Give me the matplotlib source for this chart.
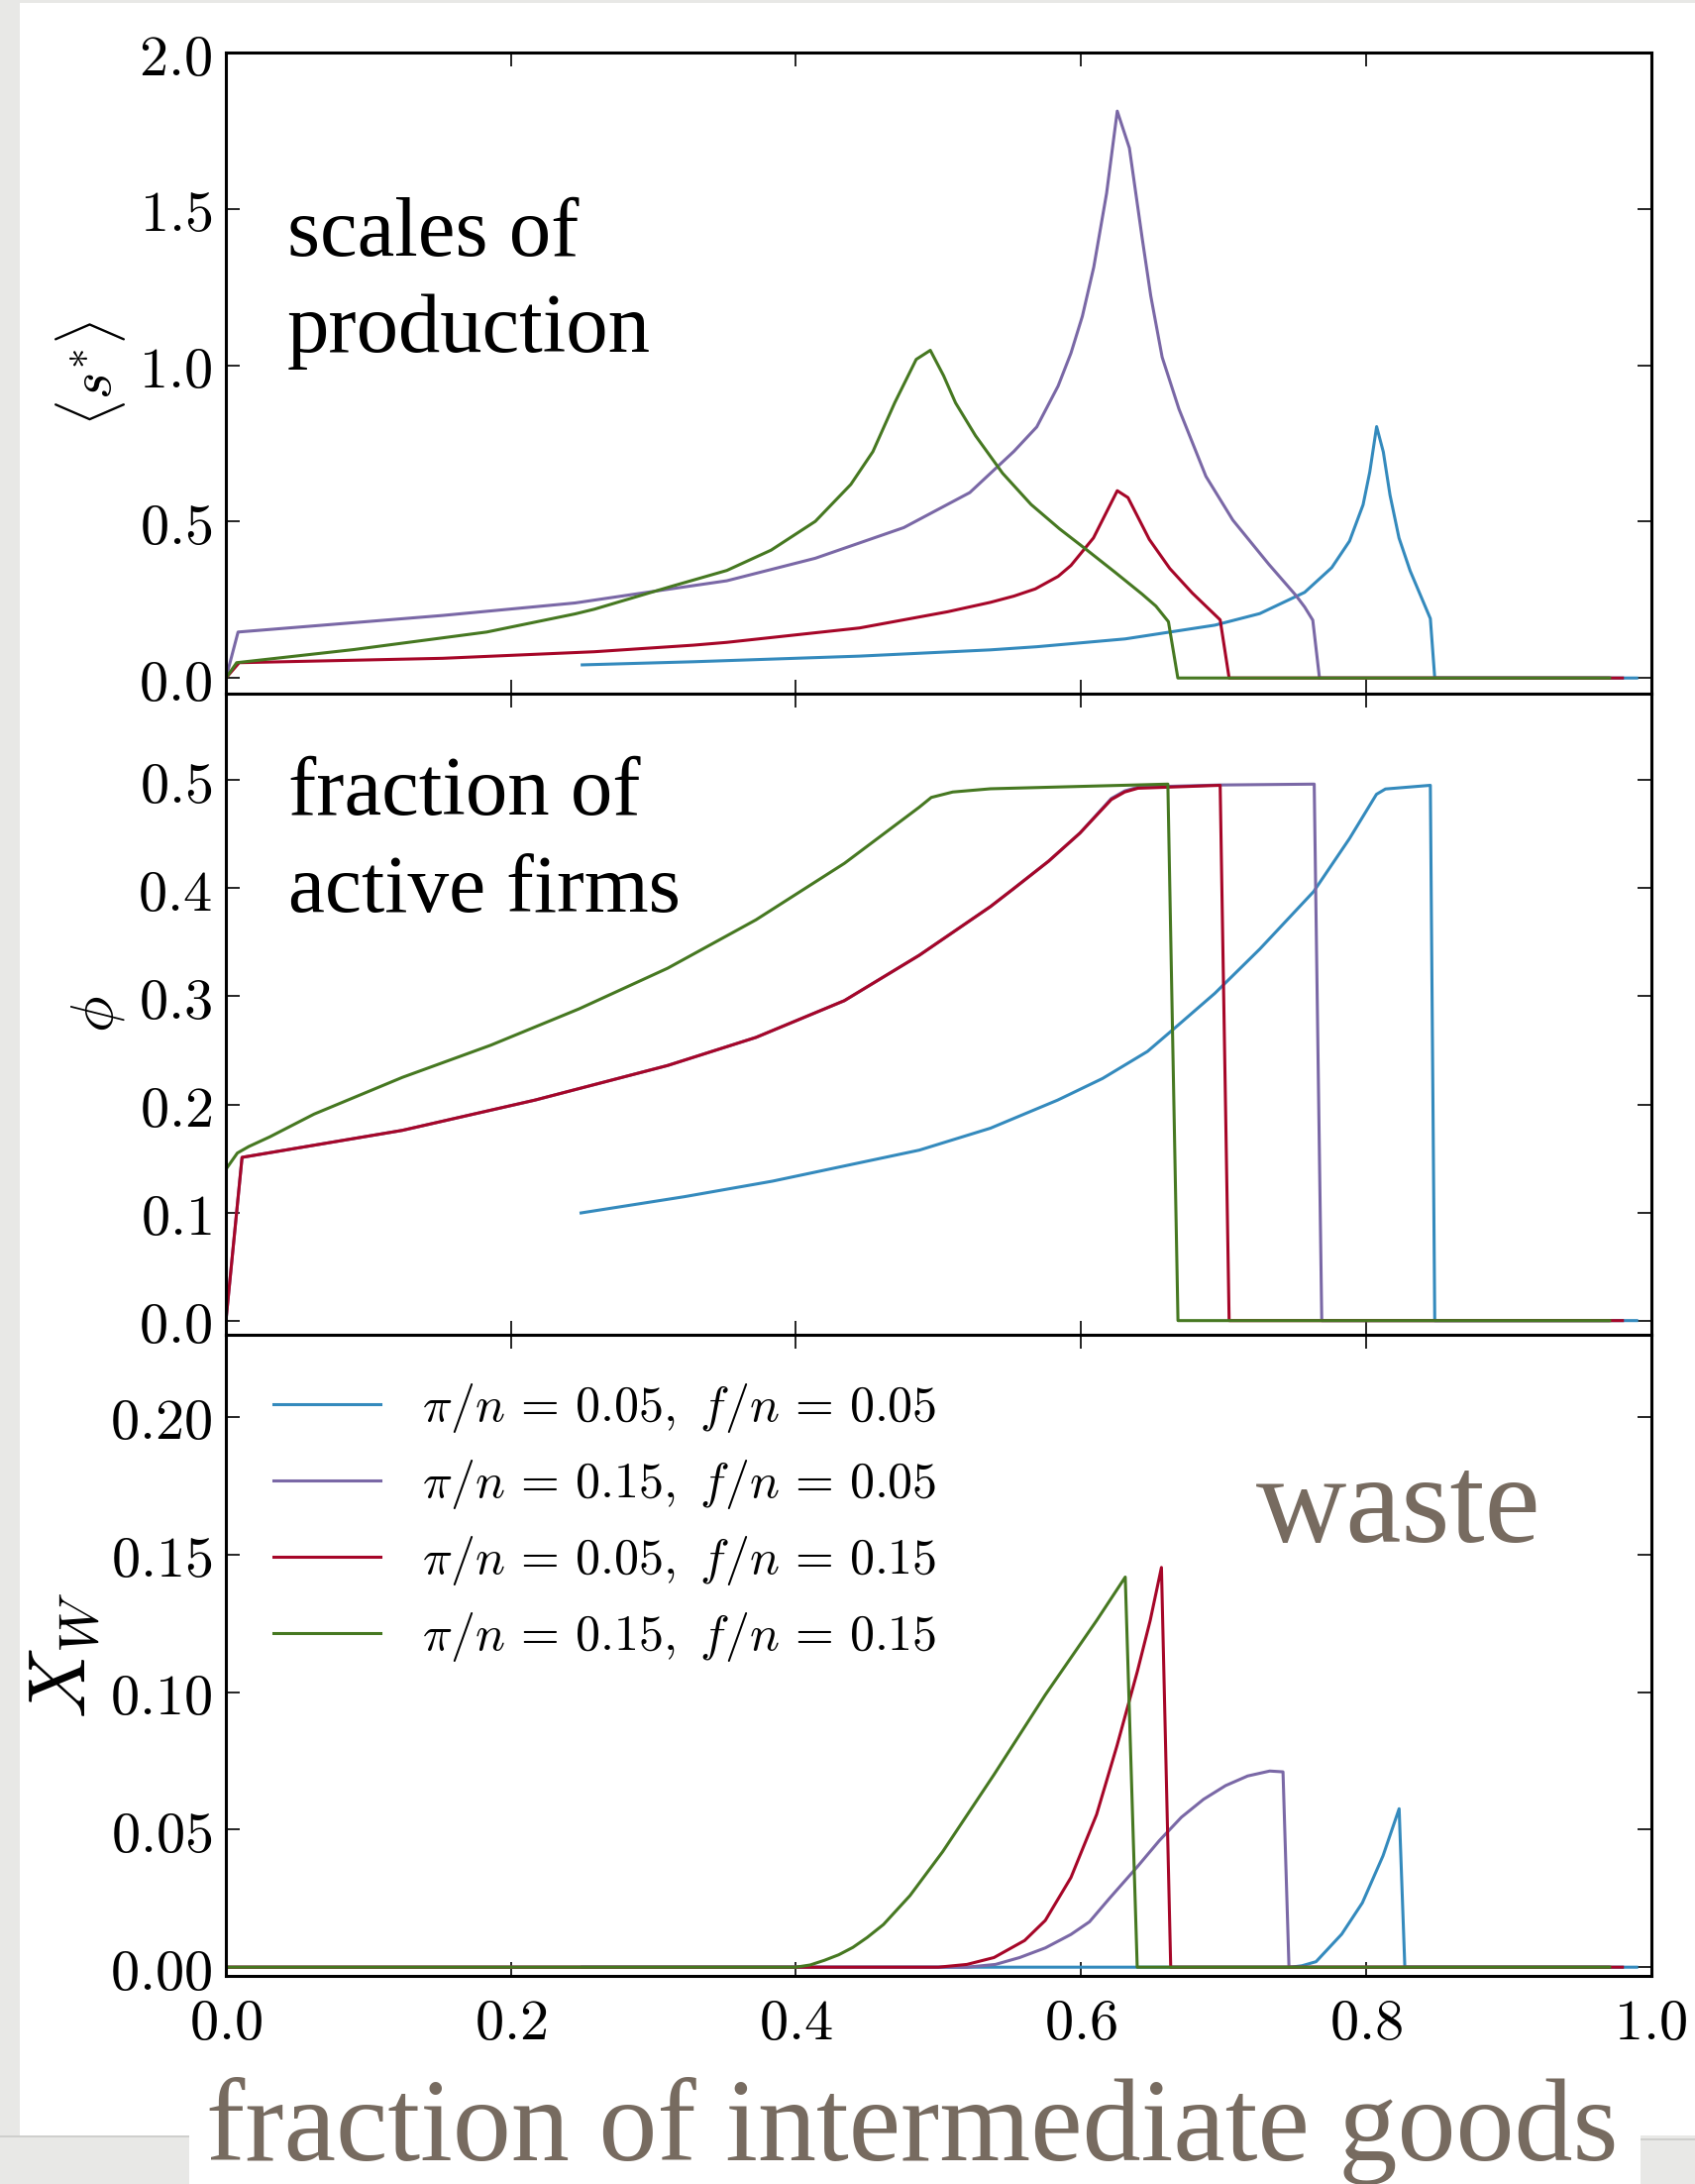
import matplotlib
matplotlib.use('Agg')
from matplotlib import pyplot as plt
from matplotlib.patches import Rectangle
from matplotlib.ticker import FormatStrFormatter

plt.rcParams['mathtext.fontset'] = 'cm'

# series labels and colours
labels = [r'$\pi/n\,=\,0.05,\ f/n\,=\,0.05$', r'$\pi/n\,=\,0.15,\ f/n\,=\,0.05$',
          r'$\pi/n\,=\,0.05,\ f/n\,=\,0.15$', r'$\pi/n\,=\,0.15,\ f/n\,=\,0.15$']
colors = ['#348ABD', '#7A68A6', '#A60628', '#467821']

# ---- top panel: <s*> ----
s_blue_x = [0.25, 0.328, 0.4446, 0.5365, 0.569, 0.631, 0.694, 0.7255, 0.757, 0.776, 0.7885,
            0.798, 0.8027, 0.8075, 0.8122, 0.8169, 0.8232, 0.831, 0.8452, 0.8483, 0.99]
s_blue_y = [0.042, 0.052, 0.07, 0.09, 0.1, 0.125, 0.169, 0.206, 0.274, 0.353, 0.438,
            0.554, 0.659, 0.804, 0.723, 0.585, 0.448, 0.343, 0.19, 0.0, 0.0]
s_purple_x = [0.0, 0.0085, 0.152, 0.245, 0.2895, 0.3515, 0.4136, 0.4757, 0.522, 0.553, 0.569,
              0.584, 0.593, 0.601, 0.609, 0.618, 0.6255, 0.634, 0.643, 0.649, 0.657, 0.6688,
              0.6877, 0.7066, 0.7318, 0.7507, 0.757, 0.7627, 0.7674, 0.97]
s_purple_y = [0.0, 0.147, 0.2, 0.24, 0.27, 0.311, 0.383, 0.481, 0.593, 0.725, 0.803,
              0.934, 1.039, 1.157, 1.314, 1.55, 1.813, 1.695, 1.406, 1.222, 1.026, 0.86,
              0.645, 0.505, 0.364, 0.265, 0.227, 0.185, 0.0, 0.0]
s_red_x = [0.0, 0.0093, 0.152, 0.2585, 0.328, 0.3515, 0.4446, 0.5066, 0.5365, 0.553, 0.568,
           0.584, 0.593, 0.6088, 0.6255, 0.633, 0.648, 0.6624, 0.6781, 0.6977, 0.704, 0.98]
s_red_y = [0.0, 0.049, 0.063, 0.084, 0.105, 0.114, 0.16, 0.212, 0.242, 0.262, 0.285,
           0.325, 0.36, 0.448, 0.599, 0.577, 0.443, 0.35, 0.272, 0.186, 0.0, 0.0]
s_green_x = [0.0, 0.0075, 0.0898, 0.183, 0.245, 0.2585, 0.311, 0.3515, 0.3826, 0.4136, 0.4385,
             0.454, 0.4694, 0.4844, 0.4943, 0.5036, 0.512, 0.526, 0.545, 0.565, 0.585, 0.604,
             0.624, 0.643, 0.6526, 0.6614, 0.668, 0.971]
s_green_y = [0.0, 0.049, 0.091, 0.147, 0.205, 0.22, 0.291, 0.344, 0.409, 0.501, 0.619,
             0.724, 0.881, 1.019, 1.048, 0.967, 0.88, 0.775, 0.655, 0.555, 0.477, 0.41,
             0.338, 0.268, 0.23, 0.18, 0.0, 0.0]

# ---- middle panel: phi ----
p_blue_x = [0.2492, 0.3216, 0.3836, 0.4866, 0.5365, 0.5837, 0.6152, 0.6467, 0.6688, 0.694,
            0.7255, 0.7633, 0.7885, 0.8074, 0.8137, 0.8452, 0.8483, 0.99]
p_blue_y = [0.0996, 0.1146, 0.129, 0.1577, 0.178, 0.204, 0.224, 0.249, 0.274, 0.3028,
            0.3437, 0.3969, 0.446, 0.4869, 0.4918, 0.4952, 0.0, 0.0]
p_red_x = [0.0, 0.0113, 0.1238, 0.2169, 0.31, 0.372, 0.434, 0.4866, 0.5365, 0.5522, 0.5773,
           0.5993, 0.6213, 0.6307, 0.64, 0.6977, 0.704, 0.98]
p_red_y = [0.0, 0.151, 0.176, 0.204, 0.236, 0.262, 0.296, 0.338, 0.383, 0.399, 0.425,
           0.451, 0.482, 0.489, 0.4925, 0.4952, 0.0, 0.0]
p_purple_x = [0.0, 0.0113, 0.1238, 0.2169, 0.31, 0.372, 0.434, 0.4866, 0.5365, 0.5522, 0.5773,
              0.5993, 0.6213, 0.6307, 0.64, 0.6977, 0.7637, 0.769, 0.97]
p_purple_y = [0.0, 0.151, 0.176, 0.204, 0.236, 0.262, 0.296, 0.338, 0.383, 0.399, 0.425,
              0.451, 0.483, 0.490, 0.4935, 0.4955, 0.4963, 0.0, 0.0]
p_green_x = [0.0, 0.008, 0.016, 0.0308, 0.0618, 0.1238, 0.1859, 0.248, 0.31, 0.372, 0.434,
             0.4866, 0.495, 0.51, 0.5365, 0.661, 0.6681, 0.971]
p_green_y = [0.14, 0.155, 0.161, 0.170, 0.191, 0.225, 0.2548, 0.2885, 0.326, 0.3708, 0.423,
             0.475, 0.484, 0.489, 0.492, 0.4963, 0.0, 0.0]

# ---- bottom panel: X_W ----
w_blue_x = [0.25, 0.7472, 0.755, 0.765, 0.783, 0.7975, 0.812, 0.8233, 0.8273, 0.99]
w_blue_y = [0.0, 0.0, 0.0005, 0.002, 0.012, 0.0234, 0.0405, 0.0576, 0.0, 0.0]
w_purple_x = [0.0, 0.52, 0.54, 0.557, 0.575, 0.593, 0.606, 0.62, 0.6394, 0.655, 0.6705, 0.686,
              0.7015, 0.717, 0.7325, 0.7418, 0.746, 0.97]
w_purple_y = [0.0, 0.0, 0.001, 0.0035, 0.007, 0.0119, 0.0165, 0.025, 0.0364, 0.046, 0.0545,
              0.061, 0.066, 0.0695, 0.0713, 0.071, 0.0, 0.0]
w_red_x = [0.0, 0.50, 0.52, 0.539, 0.5605, 0.575, 0.593, 0.611, 0.6253, 0.6396, 0.6486, 0.6565,
           0.663, 0.98]
w_red_y = [0.0, 0.0, 0.001, 0.0035, 0.0097, 0.017, 0.0326, 0.0555, 0.0805, 0.1075, 0.126,
           0.1453, 0.0, 0.0]
w_green_x = [0.0, 0.40, 0.41, 0.42, 0.43, 0.44, 0.45, 0.4614, 0.48, 0.503, 0.539, 0.575, 0.611,
             0.6311, 0.6395, 0.971]
w_green_y = [0.0, 0.0, 0.0008, 0.0025, 0.0045, 0.0072, 0.0108, 0.0155, 0.026, 0.042, 0.070,
             0.099, 0.126, 0.1418, 0.0, 0.0]

top_series = [(s_blue_x, s_blue_y), (s_purple_x, s_purple_y), (s_red_x, s_red_y), (s_green_x, s_green_y)]
mid_series = [(p_blue_x, p_blue_y), (p_purple_x, p_purple_y), (p_red_x, p_red_y), (p_green_x, p_green_y)]
bot_series = [(w_blue_x, w_blue_y), (w_purple_x, w_purple_y), (w_red_x, w_red_y), (w_green_x, w_green_y)]

fig = plt.figure(figsize=(17.11, 22.04), dpi=100)
fig.patch.set_facecolor('#e8e8e6')

# slide "paper" and footer band, kept behind the axes
def fig_rect(x, y, w, hh, color):
    fig.patches.append(Rectangle((x / 1711, y / 2204), w / 1711, hh / 2204,
                                 transform=fig.transFigure, facecolor=color,
                                 edgecolor='none', zorder=-5))

fig_rect(20, 49, 1691, 2152, 'white')
fig_rect(191, 0, 1465, 49, 'white')
fig_rect(0, 47, 191, 2, '#cfcfcd')
fig_rect(1656, 44, 55, 2, '#cfcfcd')

left, width, h = 0.1333, 0.8407, 0.2935
ax1 = fig.add_axes([left, 0.6824, width, h])
ax2 = fig.add_axes([left, 0.3889, width, h])
ax3 = fig.add_axes([left, 0.0955, width, h])

for ax, series in [(ax1, top_series), (ax2, mid_series), (ax3, bot_series)]:
    for (xs, ys), c, lab in zip(series, colors, labels):
        ax.plot(xs, ys, color=c, linewidth=2.2, label=lab)
    ax.set_xlim(0, 1)
    ax.set_facecolor('white')
    for sp in ax.spines.values():
        sp.set_linewidth(2.2)
    ax.tick_params(direction='in', top=True, right=True, length=10, width=1.2,
                   labelsize=42, pad=10)
    ax.set_xticks([0.0, 0.2, 0.4, 0.6, 0.8, 1.0])
    ax.xaxis.set_major_formatter(FormatStrFormatter('$%.1f$'))

ax1.set_ylim(-0.05, 2.0)
ax1.set_yticks([0.0, 0.5, 1.0, 1.5, 2.0])
ax1.yaxis.set_major_formatter(FormatStrFormatter('$%.1f$'))
ax1.tick_params(labelbottom=False)
ax1.set_ylabel(r'$\langle s^{*}\rangle$', fontsize=42, labelpad=8)

ax2.set_ylim(-0.013, 0.58)
ax2.set_yticks([0.0, 0.1, 0.2, 0.3, 0.4, 0.5])
ax2.yaxis.set_major_formatter(FormatStrFormatter('$%.1f$'))
ax2.tick_params(labelbottom=False)
ax2.set_ylabel(r'$\phi$', fontsize=44, labelpad=8)

ax3.set_ylim(-0.003, 0.23)
ax3.set_yticks([0.0, 0.05, 0.10, 0.15, 0.20])
ax3.yaxis.set_major_formatter(FormatStrFormatter('$%.2f$'))
ax3.set_ylabel(r'$X_W$', fontsize=58, labelpad=6)
ax3.tick_params(axis='x', pad=14)

ax3.legend(loc='upper left', frameon=False, fontsize=36, handlelength=2.16,
           handletextpad=0.84, labelspacing=0.46, borderaxespad=0.55)

serif = 'Liberation Serif'
ax1.text(0.043, 0.684, 'scales of', transform=ax1.transAxes, fontsize=61,
         family=serif, va='baseline', ha='left')
ax1.text(0.043, 0.533, 'production', transform=ax1.transAxes, fontsize=61,
         family=serif, va='baseline', ha='left')
ax2.text(0.044, 0.812, 'fraction of', transform=ax2.transAxes, fontsize=61,
         family=serif, va='baseline', ha='left')
ax2.text(0.044, 0.66, 'active firms', transform=ax2.transAxes, fontsize=60,
         family=serif, va='baseline', ha='left')
ax3.text(0.7227, 0.676, 'waste', transform=ax3.transAxes, fontsize=91,
         family=serif, color='#776b60', va='baseline', ha='left')

fig.text(208 / 1711, 24 / 2204, 'fraction of intermediate goods', fontsize=85,
         family=serif, color='#776b60', va='baseline', ha='left')

fig.savefig('out.png', dpi=100, facecolor=fig.get_facecolor())
